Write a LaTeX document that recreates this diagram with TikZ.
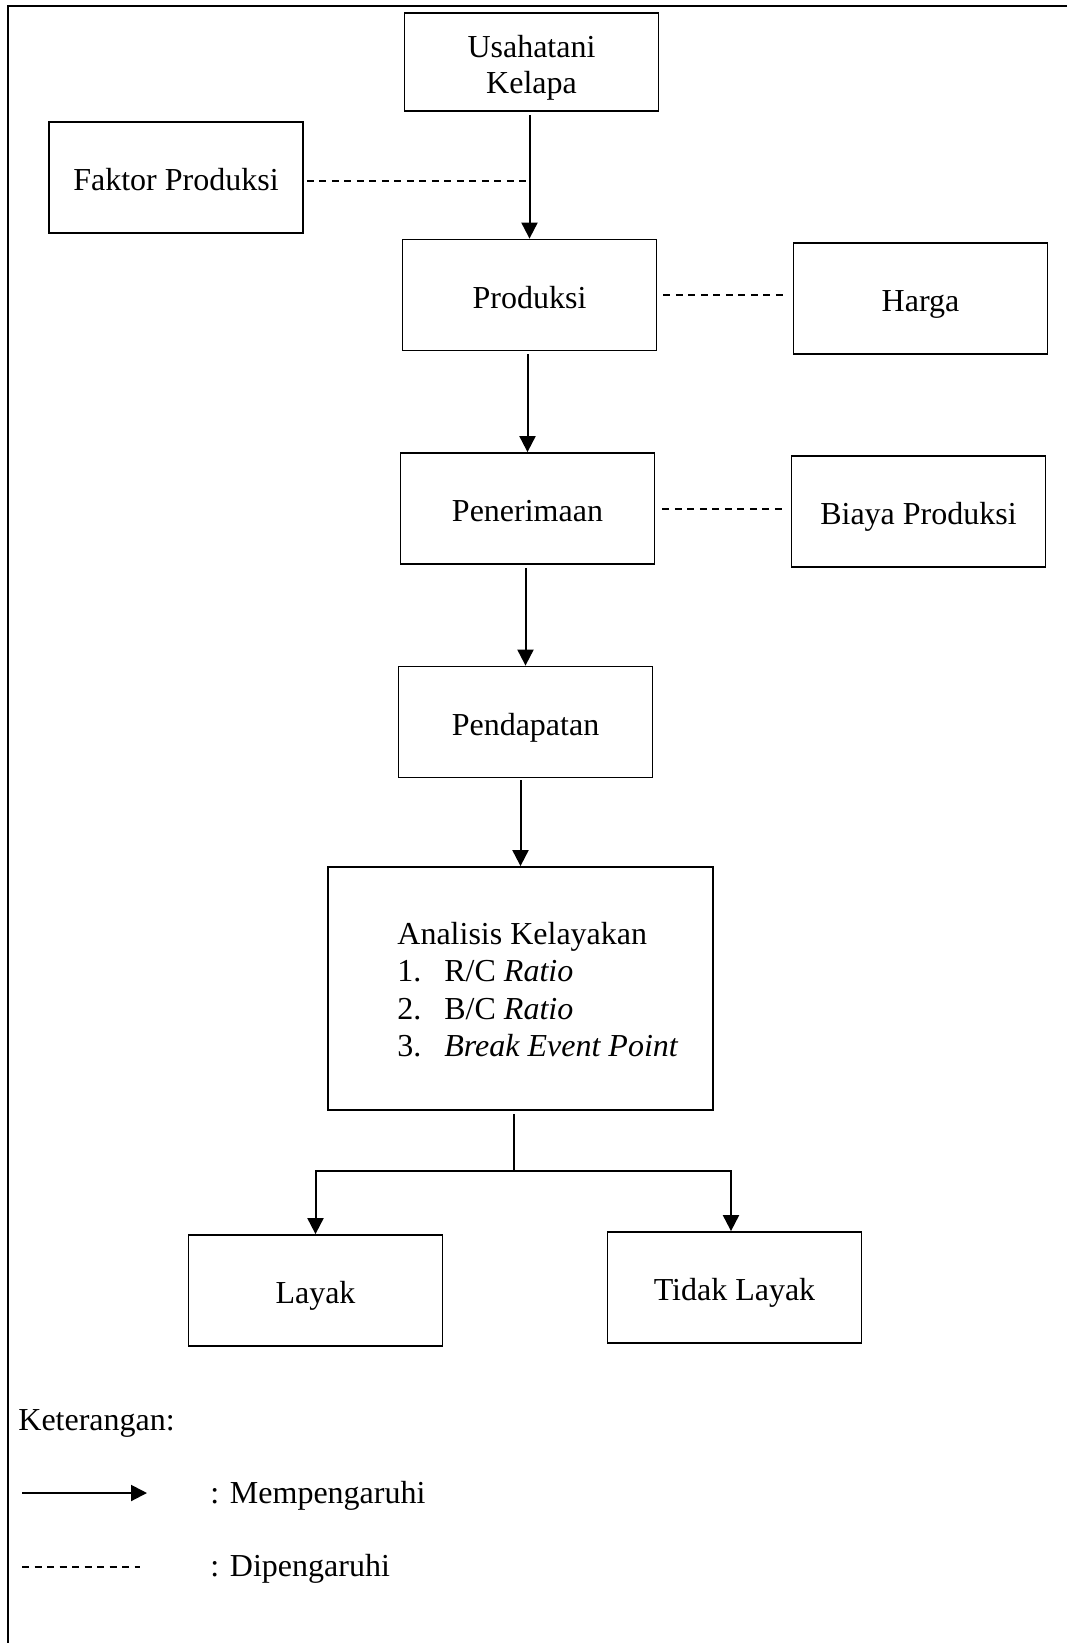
\documentclass[tikz,border=0pt]{standalone}
\usepackage{fontspec}
\setmainfont{Liberation Serif}
\usetikzlibrary{arrows.meta}
\newcommand\bodyfs{\fontsize{16}{18.75}\selectfont}
\tikzset{
  box/.style={draw, line width=0.9pt, minimum width=127pt, minimum height=55.5pt, inner sep=0pt, font=\bodyfs, text height=13.25pt, text depth=0pt},
  arr/.style={line width=1pt, -{Triangle[length=8pt,width=8pt]}},
  plain/.style={line width=1pt},
  infl/.style={line width=1pt, dash pattern=on 3.5pt off 2.75pt},
  frame/.style={line width=1pt},
  lbl/.style={inner sep=0pt, font=\bodyfs, anchor=base west}
}
\begin{document}
\begin{tikzpicture}[x=0.5pt,y=-0.5pt]
\useasboundingbox (0,0) rectangle (1067,1643);
% open frame
\draw[frame] (1067,6) -- (7.5,6) -- (7.5,1643);
% boxes
\node[box, minimum height=49pt] (u) at (531.5,62) {};
\node[inner sep=0pt, align=center, font=\fontsize{16}{18}\selectfont] (utxt) at ([yshift=-3pt]u.center) {Usahatani\\Kelapa};
\node[box] (fak) at (176,177.5) {Faktor Produksi};
\node[box] (prod) at (529.5,295) {Produksi};
\node[box] (harga) at (920.5,298.5) {Harga};
\node[box] (pen) at (527.5,508.5) {Penerimaan};
\node[box] (biaya) at (918.5,511.5) {Biaya Produksi};
\node[box] (pend) at (525.5,722) {Pendapatan};
\node[box, minimum width=192.5pt, minimum height=121.5pt] (ana) at (520.5,988.5) {};
\node[lbl] (anatxt) at (397,944) {\begin{tabular}[t]{@{}l@{}}
Analisis Kelayakan\\
\makebox[23.5pt][l]{1.}R/C \textit{Ratio}\\
\makebox[23.5pt][l]{2.}B/C \textit{Ratio}\\
\makebox[23.5pt][l]{3.}\textit{Break Event Point}
\end{tabular}};
\node[box] (layak) at (315.5,1290.5) {Layak};
\node[box] (tidak) at (734.5,1287.5) {Tidak Layak};
% main arrows
\draw[arr, shorten <=1.5pt] (prod.north |- u.south) -- (prod.north);
\draw[arr, shorten <=1.5pt] (pen.north |- prod.south) -- (pen.north);
\draw[arr, shorten <=1.5pt] (pend.north |- pen.south) -- (pend.north);
\draw[arr, shorten <=1pt] (ana.north |- pend.south) -- (ana.north);
% dashed influences
\draw[infl, shorten <=1.5pt, shorten >=2pt] ([yshift=-1.5pt]fak.east) -- ([yshift=-1.5pt]fak.east -| prod.north);
\draw[infl, shorten <=3pt, shorten >=5pt] (prod.east) -- (prod.east -| harga.west);
\draw[infl, shorten <=3.5pt, shorten >=4.5pt] (pen.east) -- (pen.east -| biaya.west);
% fork
\coordinate (jt) at (514,1114);
\coordinate (jf) at (514,1171);
\draw[plain] (jt) -- (jf);
\draw[arr] (jf) -| (layak.north);
\draw[arr] (jf) -| ([xshift=-1.75pt]tidak.north);
% legend
\node[lbl] (ket) at (18,1430) {Keterangan:};
\coordinate (l1a) at (22,1493);
\coordinate (l1b) at (147,1493);
\draw[arr] (l1a) -- (l1b);
\node[lbl] (ket1) at (210,1503) {: Mempengaruhi};
\coordinate (l2a) at (22,1567);
\coordinate (l2b) at (140,1567);
\draw[infl] (l2a) -- (l2b);
\node[lbl] (ket2) at (210,1576) {: Dipengaruhi};
\end{tikzpicture}
\end{document}
